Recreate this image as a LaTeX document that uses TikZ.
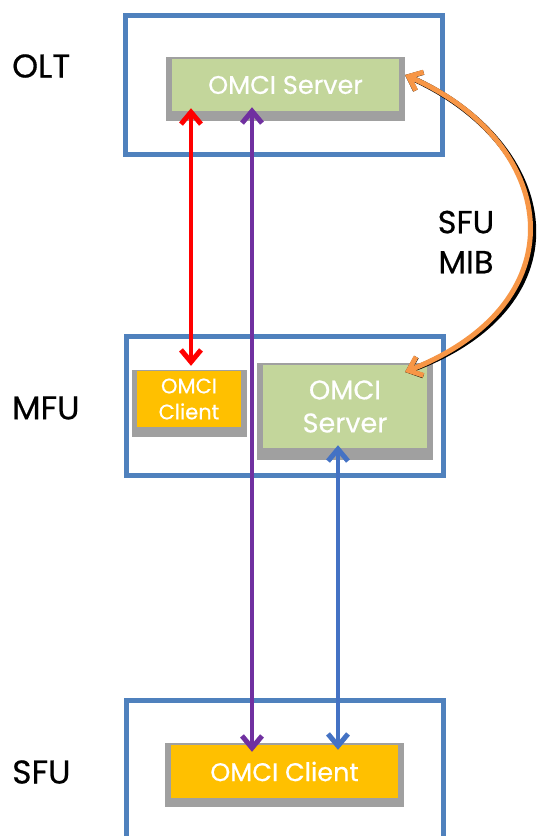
\documentclass[tikz,border=0pt]{standalone}
\usepackage{fontspec}
\setmainfont{Poppins}[FakeBold=0.5]
\usetikzlibrary{arrows.meta,calc}
\definecolor{boxblue}{HTML}{4F81BD}
\definecolor{shadowgray}{HTML}{A0A0A0}
\definecolor{srvgreen}{HTML}{C3D69B}
\definecolor{cliyellow}{HTML}{FFC000}
\definecolor{arrred}{HTML}{FF0000}
\definecolor{arrpurple}{HTML}{7030A0}
\definecolor{arrblue}{HTML}{4472C4}
\definecolor{arrorange}{HTML}{F79646}
\tikzset{
  outerbox/.style={draw=boxblue, line width=5pt, fill=none, inner sep=0pt, minimum width=317pt, minimum height=139pt},
  shadowbox/.style={fill=shadowgray, inner sep=0pt},
  srvbox/.style={fill=srvgreen, inner sep=0pt, text=white, align=center},
  clibox/.style={fill=cliyellow, inner sep=0pt, text=white, align=center},
  lbl/.style={text=black, font=\fontsize{33}{40}\selectfont, inner sep=0pt},
  barbs/.style={{Straight Barb[length=12pt,width=20pt,line width=5pt]}-{Straight Barb[length=12pt,width=20pt,line width=5pt]}},
}
\begin{document}
\begin{tikzpicture}[x=1pt,y=-1pt]
\useasboundingbox[fill=white] (0,0) rectangle (538,836);

% outer boxes
\node[outerbox] (olt) at (284,85) {};
\node[outerbox] (mfu) at (284.5,405.5) {};
\draw[draw=boxblue, line width=5pt] (126,845) -- (126,700) -- (443,700) -- (443,845);
\coordinate (sfutop) at (284.5,700);

% OLT server
\node[shadowbox, minimum width=239pt, minimum height=64pt] (oltsrvsh) at (285.5,89) {};
\node[srvbox, minimum width=227pt, minimum height=52pt, font=\fontsize{25.5}{30}\selectfont] (oltsrv) at (285.5,85) {OMCI Server};

% MFU client
\node[shadowbox, minimum width=115pt, minimum height=67pt] (mfuclish) at (189.5,403.5) {};
\node[clibox, minimum width=104pt, minimum height=56pt, font=\fontsize{21}{26}\selectfont] (mfucli) at (189,399) {OMCI\\Client};

% MFU server
\node[shadowbox, minimum width=176pt, minimum height=97pt] (mfusrvsh) at (345,411.5) {};
\node[srvbox, minimum width=164pt, minimum height=83pt, font=\fontsize{27}{33}\selectfont] (mfusrv) at (345,406.5) {OMCI\\Server};

% SFU client
\node[shadowbox, minimum width=239pt, minimum height=64pt] (sfuclish) at (284.5,775) {};
\node[clibox, minimum width=227pt, minimum height=53pt, font=\fontsize{25.5}{30}\selectfont] (sfucli) at (284.5,771.5) {OMCI Client};

% labels
\node[lbl, anchor=west] (lolt) at (12,66) {OLT};
\node[lbl, anchor=west] (lmfu) at (12,408) {MFU};
\node[lbl, anchor=west] (lsfu) at (12,772) {SFU};
\node[lbl, align=center, font=\fontsize{32}{40}\selectfont] (lmib) at (466,242) {SFU\\MIB};

% straight arrows
\coordinate (rx) at (191,0);
\coordinate (px) at (252,0);
\coordinate (bx) at (338,0);
\draw[draw=arrred, line width=4pt, barbs, shorten <=-3pt, shorten >=5pt] (oltsrv.south -| rx) -- (mfucli.north -| rx);
\draw[draw=arrpurple, line width=4pt, barbs, shorten <=-4pt, shorten >=-7pt] (oltsrv.south -| px) -- (sfucli.north -| px);
\draw[draw=arrblue, line width=4pt, barbs, shorten <=-3pt, shorten >=-5pt] (mfusrv.south -| bx) -- (sfucli.north -| bx);

% curved SFU MIB arrow with shadow
\coordinate (ctop) at (405,75);
\coordinate (cbot) at (405,372);
\draw[draw=black, line width=5.5pt, barbs, shift={(4pt,-4pt)}] (ctop) .. controls (555,140) and (585,300) .. (cbot);
\draw[draw=arrorange, line width=5pt, barbs] (ctop) .. controls (555,140) and (585,300) .. (cbot);
\end{tikzpicture}
\end{document}
